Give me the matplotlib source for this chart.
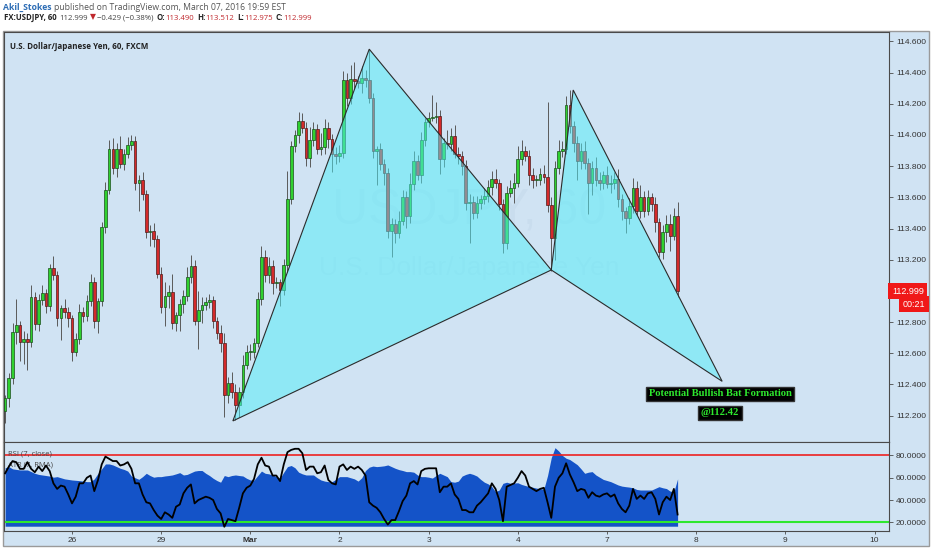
import matplotlib
matplotlib.use('Agg')
import matplotlib.pyplot as plt
from matplotlib.patches import Rectangle, Polygon
import numpy as np

# hourly closes, USDJPY 60 min
closes = [
    112.315, 112.443, 112.737, 112.78, 112.673, 112.69, 112.67, 112.96, 112.79, 112.94,
    112.985, 112.90, 113.145, 113.10, 112.826, 112.89, 112.866, 112.826, 112.61, 112.69,
    112.866, 112.84, 112.935, 113.056, 112.81, 112.935, 113.41, 113.65, 113.91, 113.79,
    113.91, 113.815, 113.88, 113.935, 113.96, 113.69, 113.71, 113.62, 113.38, 113.383,
    113.33, 113.11, 112.896, 112.97, 112.99, 112.794, 112.845, 112.915, 112.966, 113.09,
    113.157, 112.81, 112.877, 112.91, 112.93, 112.94, 112.81, 112.73, 112.667, 112.33,
    112.41, 112.354, 112.27, 112.354, 112.526, 112.61, 112.61, 112.667, 112.95, 113.22,
    113.10, 113.157, 113.05, 113.056, 113.005, 113.164, 113.59, 113.93, 114.00, 114.09,
    114.045, 113.853, 113.97, 114.04, 113.91, 113.92, 114.045, 113.975, 113.88, 113.866,
    113.885, 114.35, 114.236, 114.357, 114.345, 114.33, 114.364, 114.35, 114.236, 113.90,
    113.91, 113.815, 113.757, 113.387, 113.43, 113.37, 113.45, 113.60, 113.483, 113.687,
    113.834, 113.74, 113.97, 114.08, 114.11, 114.115, 114.12, 113.847, 113.95, 113.94,
    113.994, 113.88, 113.866, 113.80, 113.566, 113.57, 113.50, 113.566, 113.586, 113.61,
    113.668, 113.72, 113.69, 113.56, 113.31, 113.63, 113.662, 113.694, 113.847, 113.90,
    113.866, 113.74, 113.71, 113.71, 113.75, 113.73, 113.553, 113.34, 113.79, 113.90,
    113.91, 114.19, 114.06, 113.95, 113.834, 113.90, 113.82, 113.694, 113.79, 113.71,
    113.694, 113.74, 113.687, 113.694, 113.72, 113.59, 113.515, 113.47, 113.547, 113.662,
    113.515, 113.60, 113.515, 113.60, 113.56, 113.44, 113.247, 113.375, 113.426, 113.355,
    113.483, 112.999,
]
first_open = 112.23

# wick lengths above / below the body, in pips
wick_hi = [
    2, 3, 6, 17, 3, 5, 4, 8, 3, 4,
    5, 3, 3, 8, 3, 2, 6, 3, 2, 4,
    5, 3, 4, 5, 3, 2, 3, 5, 6, 7,
    4, 8, 3, 5, 4, 3, 3, 5, 3, 4,
    5, 3, 4, 9, 5, 12, 2, 3, 4, 6,
    7, 4, 12, 5, 3, 4, 3, 2, 5, 6,
    4, 7, 5, 3, 6, 4, 5, 3, 4, 7,
    4, 6, 4, 3, 2, 4, 18, 3, 3, 6,
    5, 4, 8, 4, 3, 9, 6, 4, 3, 4,
    5, 6, 5, 9, 11, 3, 8, 5, 20, 3,
    2, 4, 3, 3, 4, 3, 6, 5, 4, 7,
    6, 4, 5, 3, 4, 14, 9, 4, 3, 8,
    5, 7, 4, 3, 4, 5, 4, 4, 3, 5,
    4, 5, 6, 3, 3, 4, 5, 6, 8, 7,
    3, 4, 5, 3, 4, 6, 48, 5, 4, 7,
    5, 6, 10, 3, 4, 5, 6, 3, 4, 7,
    5, 3, 6, 5, 4, 6, 3, 2, 5, 6,
    4, 8, 4, 5, 3, 4, 3, 5, 6, 7,
    5, 9,
]
wick_lo = [
    8, 6, 4, 8, 12, 14, 18, 3, 4, 5,
    3, 4, 3, 3, 5, 14, 4, 6, 6, 3,
    3, 4, 3, 3, 5, 8, 3, 4, 3, 4,
    6, 3, 4, 3, 3, 4, 18, 4, 4, 9,
    5, 3, 4, 12, 8, 4, 5, 10, 6, 3,
    4, 3, 18, 8, 3, 4, 5, 4, 6, 14,
    5, 4, 10, 8, 4, 3, 5, 4, 3, 4,
    4, 5, 7, 3, 10, 3, 4, 3, 4, 5,
    3, 5, 6, 4, 3, 4, 4, 6, 12, 5,
    4, 3, 5, 4, 5, 3, 6, 4, 3, 5,
    22, 4, 8, 5, 17, 6, 3, 3, 8, 5,
    4, 3, 5, 4, 3, 2, 4, 10, 5, 3,
    4, 3, 5, 6, 5, 26, 4, 3, 4, 3,
    4, 5, 3, 4, 7, 4, 3, 10, 3, 4,
    3, 6, 5, 4, 3, 4, 5, 21, 14, 4,
    4, 3, 5, 6, 12, 5, 4, 20, 8, 4,
    5, 4, 3, 6, 4, 5, 6, 10, 4, 5,
    3, 5, 4, 3, 5, 6, 3, 4, 6, 10,
    3, 4,
]

# RSI (7, close)
rsi = [
    64, 70, 75, 74, 68, 68, 74, 68, 65, 70,
    66, 71, 66, 55, 50, 53, 52, 45, 37, 43,
    55, 55, 60, 62, 48, 58, 72, 79, 77, 75,
    75, 71, 72, 74, 68, 55, 55, 45, 38, 37,
    31, 26, 23, 29, 27, 24, 34, 36, 46, 51,
    54, 37, 40, 41.5, 43, 42, 40, 32, 28, 16,
    23, 22, 21, 33, 46, 51, 53, 59, 72, 78,
    71, 70, 62, 62, 57, 72, 83, 85, 86, 86,
    82, 67, 70, 70, 64, 65, 71, 58, 55, 54,
    70, 72, 67, 70, 68, 70, 67, 62, 38, 35,
    33, 29, 23, 18, 22, 22, 30, 39, 44, 55,
    57, 54, 66, 68, 68.5, 68.5, 68.5, 47, 52, 52,
    55, 45, 41, 31, 31, 29, 29, 35, 38, 42,
    46, 55, 50, 40, 21, 52, 53.5, 55, 60, 66,
    62, 52, 50, 48, 50, 51, 38, 24, 52, 60,
    64, 73, 63, 56, 48, 50, 49, 42, 47, 44,
    43, 45, 46, 43, 45, 37, 32, 29, 35, 50,
    41, 44, 41, 46, 47, 41, 27, 38, 43, 40,
    50, 27,
]

# ATR (7, RMA) drawn as the blue area
atr_area = [
    69, 70, 68, 67.5, 67, 67, 67, 65.5, 64, 63,
    62.5, 62, 61.5, 60.5, 61, 60, 59, 58.5, 58, 57.7,
    57.4, 57, 56.5, 56.5, 59, 64, 68, 72.4, 72.4, 71.5,
    70, 68.5, 67.5, 66, 61.5, 60, 58.6, 61, 64, 62,
    60.5, 61, 61, 61.6, 62, 62.5, 63.5, 64.6, 62.5, 63,
    64.5, 66, 66.5, 66.5, 64, 62, 59.5, 57.5, 56, 62,
    61, 62, 62.5, 62, 61.6, 59.5, 58, 58, 62, 66,
    64, 63.5, 62.5, 61, 59.5, 65, 70, 71, 69, 65,
    63.5, 62.5, 62.5, 62.5, 60, 58, 57, 56.5, 56.5, 58.5,
    61, 61, 61, 60, 59, 57, 60, 66.5, 69.5, 70.5,
    70, 70.3, 70.7, 71.5, 70, 68.5, 67.3, 66.5, 65.5, 65.5,
    65, 62.5, 61, 61, 60.5, 59.7, 62, 64, 62.5, 61,
    56.5, 56, 57, 61.5, 63, 64, 63, 61.5, 58.5, 56,
    54.5, 52, 47.5, 49, 55, 56, 55, 55.3, 55.5, 54,
    53, 52.2, 51.5, 50.7, 50.2, 49.8, 62, 78, 87, 84,
    80, 77.5, 76.3, 74, 71.7, 68, 64, 65, 65.5, 62.5,
    60.5, 58.5, 57.5, 56.5, 55, 53.5, 52.5, 52, 51.6, 51,
    49.5, 49, 49, 49, 49, 50.5, 52, 51, 50.3, 48,
    47.5, 59,
]
atr_base = 16.5

# harmonic pattern points (bar index, price)
pattern_names = ['X', 'A', 'B', 'C', 'D']
pattern_bar = [61.3, 98.0, 147.0, 152.9, 193.0]
pattern_price = [112.166, 114.55, 113.134, 114.288, 112.42]

day_ticks = [18, 42, 66, 90, 114, 138, 162, 186, 210, 234]
day_labels = ['26', '29', 'Mar', '2', '3', '4', '7', '8', '9', '10']
# 113.000 sits under the last-price tag, so it is not listed
price_ticks = [112.2, 112.4, 112.6, 112.8, 113.2, 113.4, 113.6, 113.8, 114.0, 114.2, 114.4, 114.6]
rsi_ticks = [20, 40, 60, 80]

BG = '#d0e3f3'
W, H = 932, 550


def fx(px):
    return px / W


def fy(py):
    return 1 - py / H


fig = plt.figure(figsize=(W / 100, H / 100), dpi=100)
fig.patch.set_facecolor('white')
fig.patches.append(Rectangle((fx(3), fy(546)), fx(926), 515 / H, transform=fig.transFigure,
                             facecolor=BG, edgecolor='#9a9a9a', lw=1, zorder=-5))

ax = fig.add_axes([fx(4), fy(442), fx(885), 410 / H])
ax2 = fig.add_axes([fx(4), fy(531), fx(885), 89 / H], sharex=ax)
for a in (ax, ax2):
    a.set_facecolor(BG)
    for s in a.spines.values():
        s.set_color('#4a4a4a')
        s.set_linewidth(0.8)

# ---- candles ----
c = np.array(closes)
o = np.r_[first_open, c[:-1]]
x = np.arange(len(c))
top = np.maximum(o, c)
bot = np.minimum(o, c)
hi = top + np.array(wick_hi) / 100
lo = bot - np.array(wick_lo) / 100
up = c >= o
ax.vlines(x, lo, hi, color='#5a5a5a', lw=0.7, zorder=2)
ax.bar(x[up], np.maximum(top - bot, 0.005)[up], bottom=bot[up], width=0.72,
       color='#2fd12f', edgecolor='#1b4d1b', lw=0.5, zorder=3)
ax.bar(x[~up], np.maximum(top - bot, 0.005)[~up], bottom=bot[~up], width=0.72,
       color='#d42a2a', edgecolor='#4d1b1b', lw=0.5, zorder=3)

# ---- bat pattern ----
px_ = dict(zip(pattern_names, zip(pattern_bar, pattern_price)))
for tri in (['X', 'A', 'B'], ['B', 'C', 'D']):
    pts = [px_[k] for k in tri]
    ax.add_patch(Polygon(pts, closed=True, facecolor='#50eef8', edgecolor='none', alpha=0.5, zorder=4))
    ax.add_patch(Polygon(pts, closed=True, fill=False, edgecolor='#2b2b2b', lw=0.8, zorder=5))

# watermark
ax.text(125, 113.506, 'USDJPY, 60', ha='center', va='center', fontsize=36,
        family='Liberation Sans', color='#5f7f9f', alpha=0.06, zorder=1)
ax.text(125, 113.147, 'U.S. Dollar/Japanese Yen', ha='center', va='center', fontsize=19,
        family='Liberation Sans', color='#5f7f9f', alpha=0.06, zorder=1)

# annotation
ax.text(192.4, 112.339, 'Potential Bullish Bat Formation', ha='center', va='center',
        fontsize=7.6, family='Liberation Serif', fontweight='bold', color='#2ee82e', zorder=6,
        bbox=dict(boxstyle='square,pad=0.25', facecolor='black', edgecolor='#333333'))
ax.text(192.4, 112.218, '@112.42', ha='center', va='center',
        fontsize=7.6, family='Liberation Serif', fontweight='bold', color='#2ee82e', zorder=6,
        bbox=dict(boxstyle='square,pad=0.25', facecolor='black', edgecolor='#333333'))

ax.set_xlim(-0.3, 237.9)
ax.set_ylim(112.031, 114.66)
ax.yaxis.tick_right()
ax.set_yticks(price_ticks)
ax.set_yticklabels(['%.3f' % v for v in price_ticks])
ax.tick_params(axis='y', length=3, width=0.6, color='#4a4a4a', labelsize=6, labelcolor='#333333', pad=2)
ax.tick_params(axis='x', bottom=False, labelbottom=False)
for t in ax.get_yticklabels():
    t.set_family('Liberation Sans')

ax.text(0.007, 0.975, 'U.S. Dollar/Japanese Yen, 60, FXCM', transform=ax.transAxes,
        ha='left', va='top', fontsize=5.8, fontweight='bold', color='#222222', family='Open Sans')

# last price tags
ax.annotate('112.999', xy=(1.0, c[-1]), xycoords=('axes fraction', 'data'), xytext=(3, 0),
            textcoords='offset pixels', ha='left', va='center',
            fontsize=6.5, color='white', family='Liberation Sans', annotation_clip=False,
            bbox=dict(boxstyle='square,pad=0.4', facecolor='#f01818', edgecolor='none'))
ax.annotate('00:21', xy=(1.041, c[-1]), xycoords=('axes fraction', 'data'), xytext=(0, -13),
            textcoords='offset pixels', ha='right', va='center', fontsize=6.5, color='white',
            family='Liberation Sans', annotation_clip=False,
            bbox=dict(boxstyle='square,pad=0.4', facecolor='#f01818', edgecolor='none'))

# ---- RSI panel ----
ax2.fill_between(x, atr_base, atr_area, color='#1453c8', lw=0, zorder=1)
ax2.axhline(80, color='#ee2222', lw=1.2, zorder=2)
ax2.axhline(20, color='#2ee82e', lw=1.5, zorder=2)
ax2.plot(x, rsi, color='black', lw=1.3, zorder=3)
ax2.set_ylim(12.2, 92.1)
ax2.yaxis.tick_right()
ax2.set_yticks(rsi_ticks)
ax2.set_yticklabels(['%.4f' % v for v in rsi_ticks])
ax2.tick_params(axis='y', length=3, width=0.6, color='#4a4a4a', labelsize=6, labelcolor='#333333', pad=2)
ax2.set_xticks(day_ticks)
ax2.set_xticklabels(day_labels)
ax2.tick_params(axis='x', length=2, width=0.6, color='#4a4a4a', labelsize=6, labelcolor='#333333', pad=2)
for t in ax2.get_xticklabels() + ax2.get_yticklabels():
    t.set_family('Liberation Sans')
ax2.get_xticklabels()[2].set_fontweight('bold')
ax2.text(0.005, 0.87, 'RSI (7, close)', transform=ax2.transAxes, ha='left', va='center',
         fontsize=5.5, color='#444444', family='Open Sans', zorder=2.5)
ax2.text(0.005, 0.74, 'ATR (7, RMA)', transform=ax2.transAxes, ha='left', va='center',
         fontsize=5.5, color='#444444', family='Open Sans', zorder=2.5)

# ---- header, laid out piece by piece ----
hdr = ['Open Sans', 'DejaVu Sans']
renderer = fig.canvas.get_renderer()


def put_line(pieces, x0, ypx, size):
    xp = x0
    for s, col, wt, gap in pieces:
        t = fig.text(fx(xp), fy(ypx), s, color=col, fontsize=size, fontweight=wt, family=hdr, va='center')
        bb = t.get_window_extent(renderer)
        xp = bb.x1 + gap


put_line([('Akil_Stokes', '#2d6db5', 'bold', 2),
          ('published on TradingView.com, March 07, 2016 19:59 EST', '#555555', 'normal', 0)], 3, 7, 6.2)
put_line([('FX:USDJPY, 60', '#222222', 'bold', 3),
          ('112.999', '#444444', 'normal', 2),
          ('\u25bc', '#c0282d', 'normal', 1),
          ('\u22120.429 (\u22120.38%)', '#444444', 'normal', 3),
          ('O:', '#222222', 'bold', 0),
          ('113.490', '#c0282d', 'normal', 3),
          ('H:', '#222222', 'bold', 0),
          ('113.512', '#c0282d', 'normal', 3),
          ('L:', '#222222', 'bold', 0),
          ('112.975', '#c0282d', 'normal', 3),
          ('C:', '#222222', 'bold', 0),
          ('112.999', '#c0282d', 'normal', 0)], 4, 18, 5.6)

fig.savefig('out.png', dpi=100, facecolor=fig.get_facecolor())
